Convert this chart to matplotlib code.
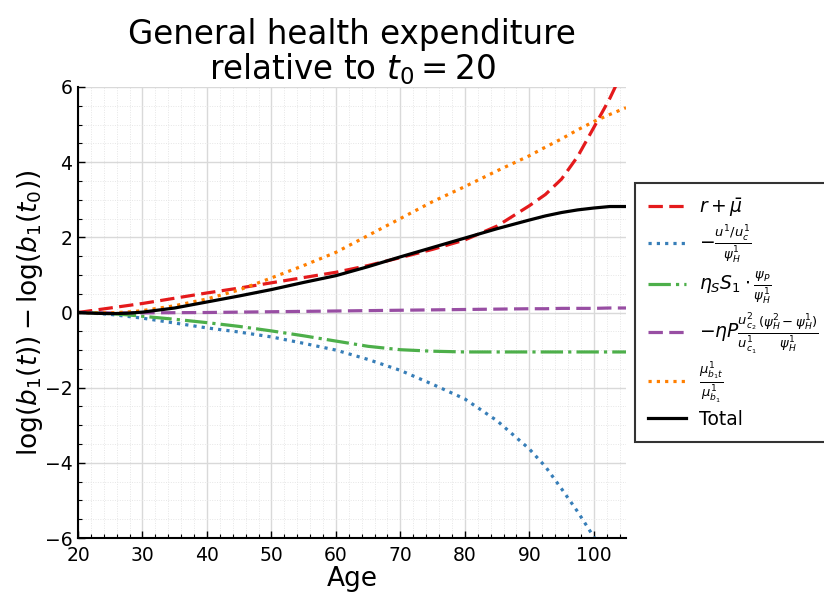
import matplotlib
matplotlib.use("Agg")
import matplotlib.pyplot as plt
from matplotlib.ticker import MultipleLocator

ages = [20, 22.5, 25, 27.5, 30, 35, 40, 45, 50, 55, 60, 65, 70, 75, 80, 85, 90, 92.5, 95, 97.5, 100, 102.5, 105]

r_mu = [0, 0.06, 0.12, 0.18, 0.24, 0.38, 0.52, 0.65, 0.79, 0.93, 1.07, 1.25, 1.46, 1.68, 1.93, 2.3, 2.84, 3.14, 3.55, 4.15, 4.92, 5.7, 6.6]
u_term = [0, -0.02, -0.05, -0.1, -0.15, -0.28, -0.41, -0.52, -0.65, -0.82, -1.0, -1.25, -1.54, -1.91, -2.3, -2.88, -3.63, -4.1, -4.69, -5.3, -5.97, -6.8, -7.7]
eta_s = [0, -0.01, -0.03, -0.06, -0.1, -0.18, -0.27, -0.37, -0.49, -0.62, -0.76, -0.9, -0.99, -1.03, -1.05, -1.05, -1.05, -1.05, -1.05, -1.05, -1.05, -1.05, -1.05]
eta_p = [0, -0.005, -0.01, -0.01, -0.01, -0.005, 0, 0.01, 0.02, 0.03, 0.04, 0.05, 0.06, 0.07, 0.08, 0.09, 0.1, 0.1, 0.11, 0.11, 0.11, 0.12, 0.12]
mu_ratio = [0, -0.01, -0.01, 0.01, 0.05, 0.18, 0.36, 0.6, 0.92, 1.25, 1.6, 2.05, 2.5, 2.95, 3.35, 3.77, 4.17, 4.4, 4.62, 4.86, 5.08, 5.27, 5.45]
total = [0, -0.02, -0.03, -0.02, 0.01, 0.12, 0.28, 0.44, 0.61, 0.8, 0.98, 1.22, 1.48, 1.73, 1.98, 2.23, 2.46, 2.57, 2.66, 2.73, 2.78, 2.82, 2.82]

labels = [
    r"$r + \bar{\mu}$",
    r"$-\frac{u^1/u^1_c}{\psi^1_H}$",
    r"$\eta_S S_1 \cdot \frac{\psi_P}{\psi^1_H}$",
    r"$-\eta P \frac{u^2_{c_2}}{u^1_{c_1}} \frac{(\psi^2_H - \psi^1_H)}{\psi^1_H}$",
    r"$\frac{\mu^1_{b_1 t}}{\mu^1_{b_1}}$",
    "Total",
]

fig = plt.figure(figsize=(8.24, 5.92), dpi=100)
ax = fig.add_axes([78/824, 54/592, (626-78)/824, (538-87)/592])

lw = 2.3
ax.plot(ages, r_mu, color="#e41a1c", lw=lw, linestyle=(0, (4.5, 2)), label=labels[0])
ax.plot(ages, u_term, color="#377eb8", lw=lw, linestyle=(0, (1, 1.6)), label=labels[1])
ax.plot(ages, eta_s, color="#4daf4a", lw=lw, linestyle=(0, (7, 1.6, 1, 1.6)), label=labels[2])
ax.plot(ages, eta_p, color="#984ea3", lw=lw, linestyle=(0, (4.5, 2)), label=labels[3])
ax.plot(ages, mu_ratio, color="#ff7f00", lw=lw, linestyle=(0, (1, 1.6)), label=labels[4])
ax.plot(ages, total, color="black", lw=lw, linestyle="-", label=labels[5])

ax.set_xlim(20, 105)
ax.set_ylim(-6, 6)
ax.xaxis.set_major_locator(MultipleLocator(10))
ax.xaxis.set_minor_locator(MultipleLocator(2))
ax.yaxis.set_major_locator(MultipleLocator(2))
ax.yaxis.set_minor_locator(MultipleLocator(0.5))

ax.grid(True, which="major", color="#d9d9d9", lw=1.0)
ax.grid(True, which="minor", color="#e6e6e6", lw=0.7, linestyle=(0, (1, 1.5)))
ax.set_axisbelow(True)

for s in ["top", "right"]:
    ax.spines[s].set_visible(False)
for s in ["left", "bottom"]:
    ax.spines[s].set_linewidth(1.5)
ax.tick_params(which="major", direction="in", length=5, width=1, labelsize=13.5)
ax.tick_params(axis="x", which="major", pad=5.5)
ax.tick_params(axis="y", which="major", pad=4)
ax.tick_params(which="minor", direction="in", length=3, width=0.8)

ax.set_xlabel("Age", fontsize=19, labelpad=1)
ax.set_ylabel(r"$\log(b_1(t)) - \log(b_1(t_0))$", fontsize=19, labelpad=0)
ax.set_title("General health expenditure\nrelative to $t_0 = 20$", fontsize=23.5, pad=5, linespacing=1.0)

leg = fig.legend(loc="upper left", bbox_to_anchor=(635/824, 1-183/592, 0.26, 0.0),
                 mode="expand", fontsize=13.5, frameon=True, fancybox=False,
                 edgecolor="black", handlelength=2.0, handletextpad=0.7,
                 labelspacing=0.22, borderpad=0.7, borderaxespad=0)
leg.get_frame().set_linewidth(1.5)

fig.savefig("out.png", dpi=100)
